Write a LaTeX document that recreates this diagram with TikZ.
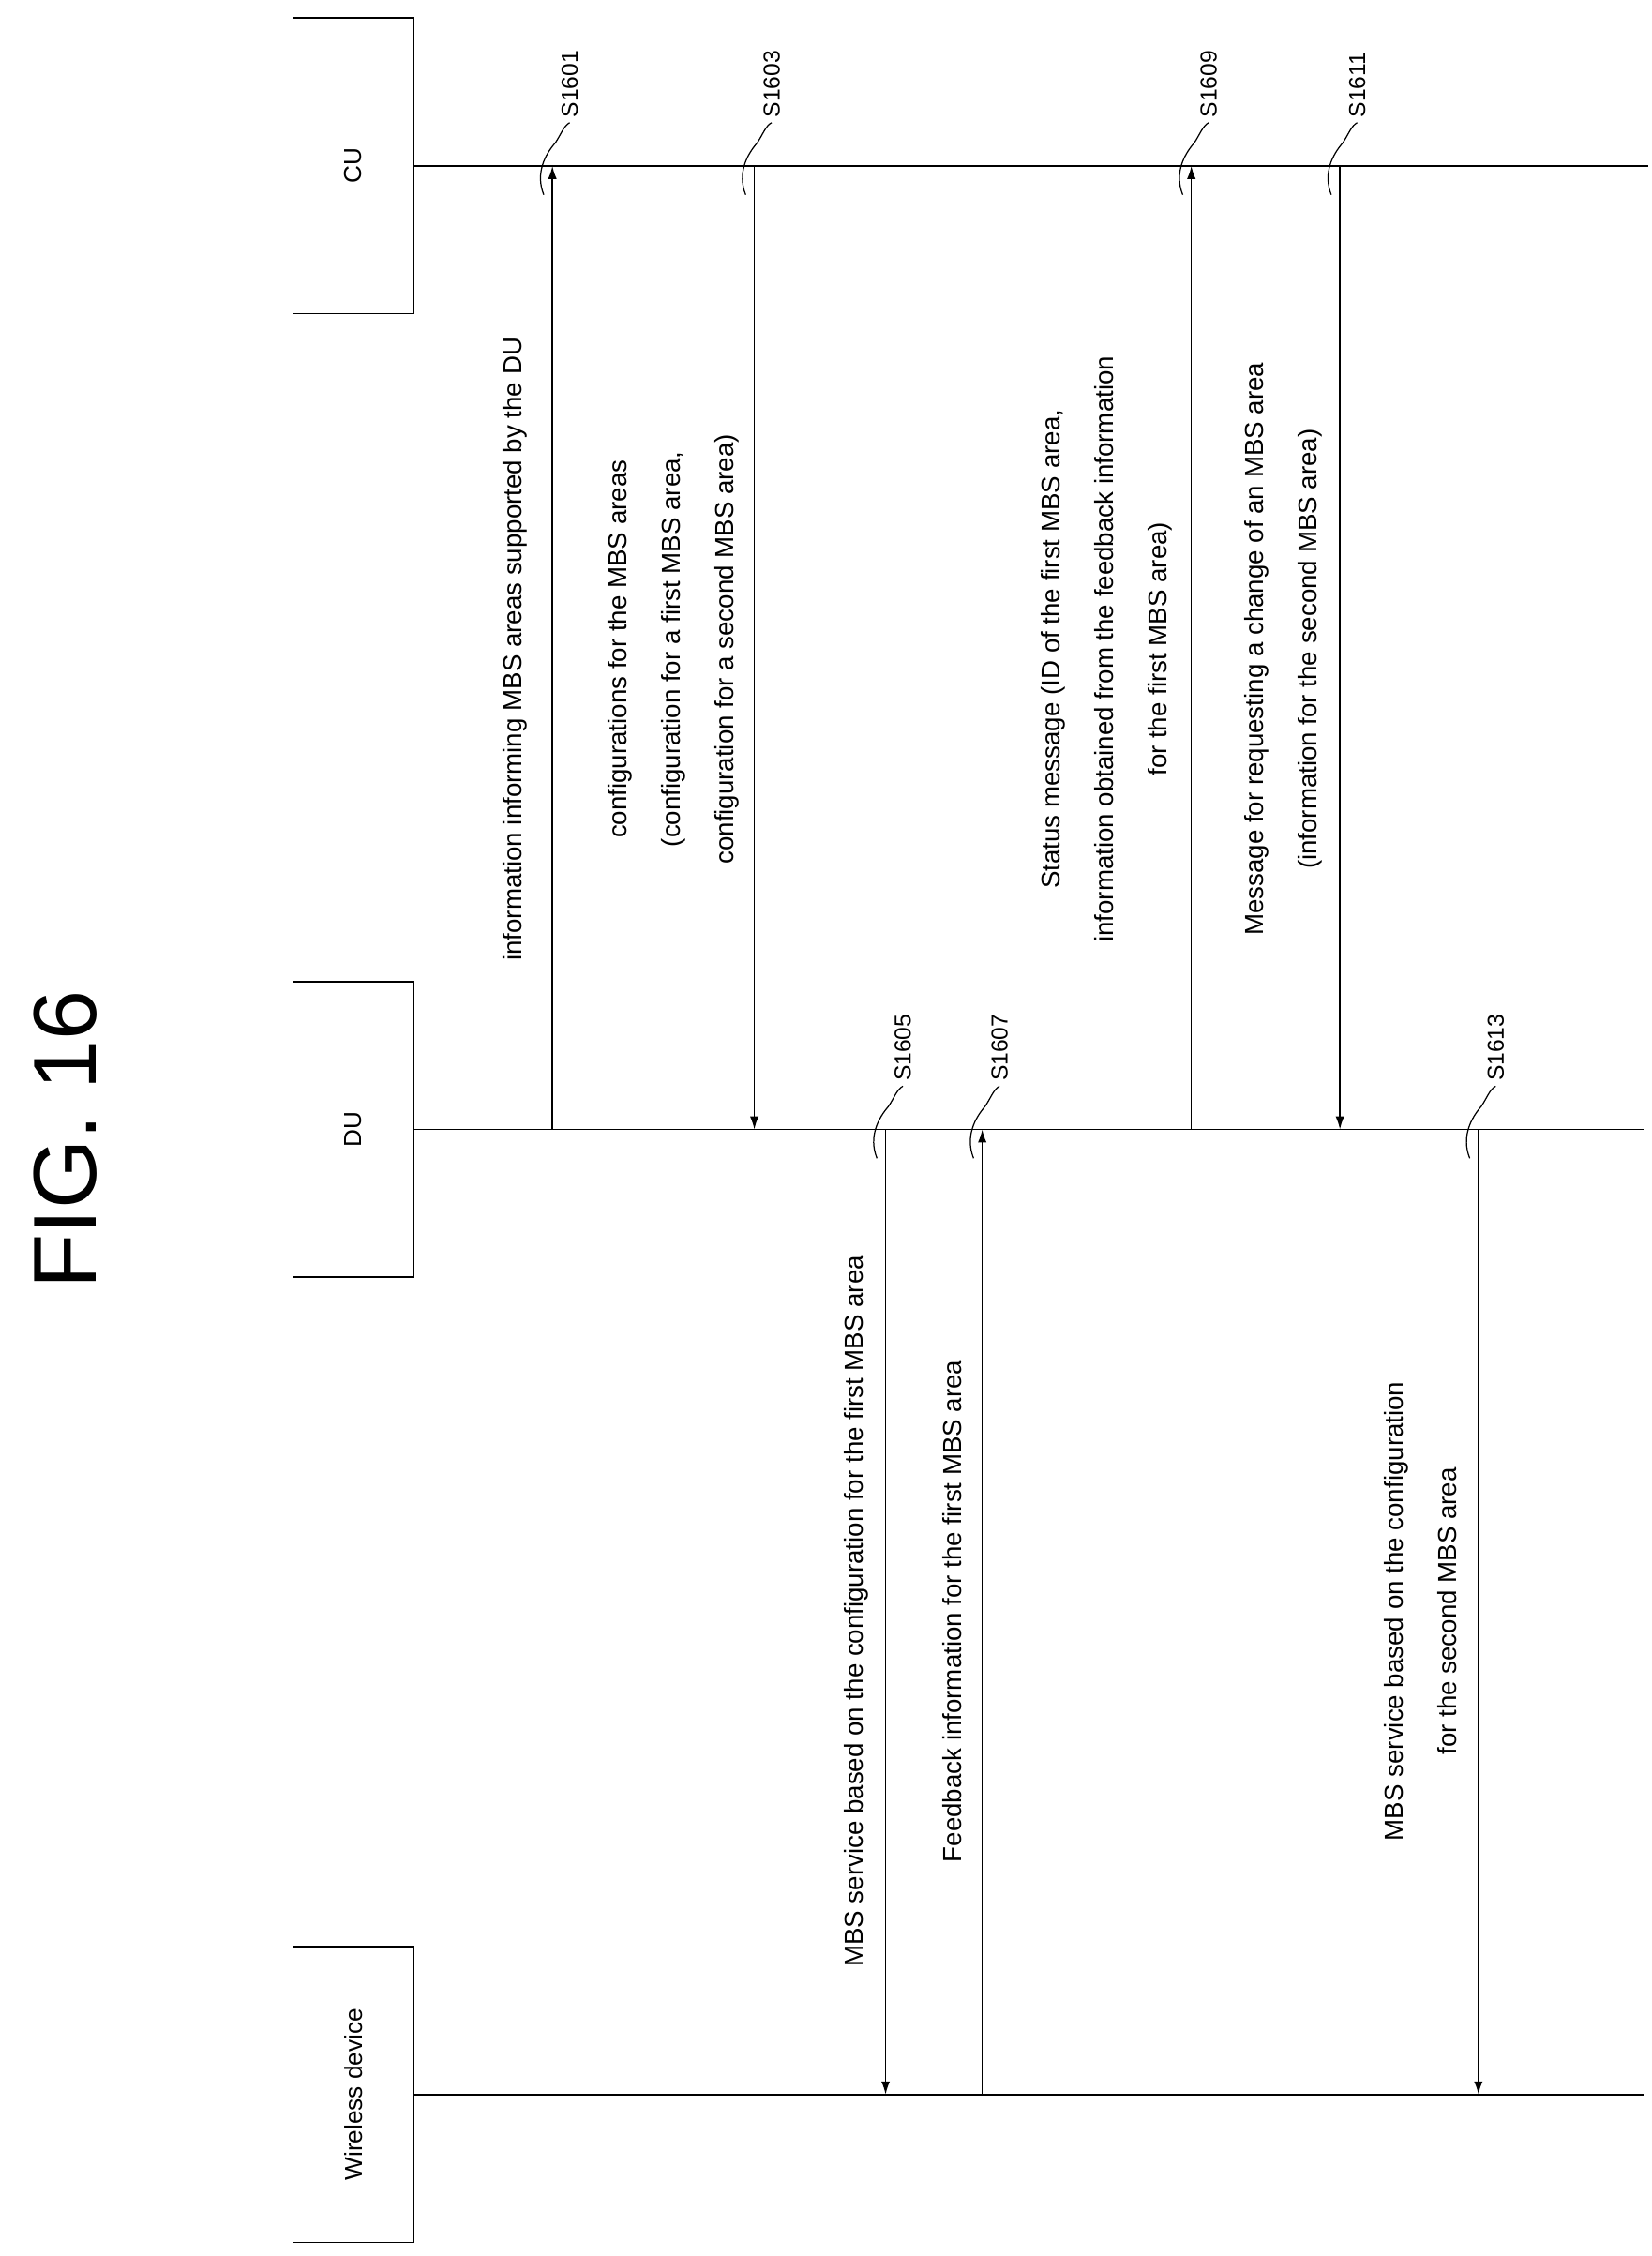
\documentclass[tikz,border=0pt]{standalone}
\usepackage{fontspec}
\setmainfont{Liberation Sans}
\usetikzlibrary{arrows.meta}
\begin{document}
\begin{tikzpicture}[x=1pt,y=-1pt,
  box/.style={draw,line width=1pt,minimum width=205pt,minimum height=84pt,rotate=90,font=\fontsize{17}{20}\selectfont},
  life/.style={line width=1.2pt},
  msg/.style={line width=1pt,-{Latex[length=9pt,width=6pt]}},
  lab/.style={rotate=90,align=center,font=\fontsize{18}{37}\selectfont},
  sl/.style={rotate=90,anchor=west,font=\fontsize{16}{18}\selectfont}]
\useasboundingbox (0,0) rectangle (1145,1564);
\node[rotate=90,font=\fontsize{62}{70}\selectfont] (title) at (45,790) {FIG. 16};
\node[box] (cu) at (245,115) {CU};
\node[box] (du) at (245,783) {DU};
\node[box] (wd) at (245,1452) {Wireless device};
\coordinate (cuE) at (1143,115);
\coordinate (duE) at (1140,783);
\coordinate (wdE) at (1140,1452);
\draw[life] (cu.south) -- (cuE);
\draw[life] (du.south) -- (duE);
\draw[life] (wd.south) -- (wdE);
\foreach \n/\x in {1/383,3/523,9/826,11/929}{
  \coordinate (c\n) at (\x,115); \coordinate (d\n) at (\x,783);}
\foreach \n/\x in {5/614,7/681,13/1025}{
  \coordinate (d\n) at (\x,783); \coordinate (w\n) at (\x,1452);}
\draw[msg] (d1) -- (c1);
\draw[msg] (c3) -- (d3);
\draw[msg] (d5) -- (w5);
\draw[msg] (w7) -- (d7);
\draw[msg] (d9) -- (c9);
\draw[msg] (c11) -- (d11);
\draw[msg] (d13) -- (w13);
\node[lab] (l1) at (357,450) {information informing MBS areas supported by the DU};
\node[lab] (l3) at (467,450) {configurations for the MBS areas\\(configuration for a first MBS area,\\configuration for a second MBS area)};
\node[lab] (l5) at (594,1117) {MBS service based on the configuration for the first MBS area};
\node[lab] (l7) at (660,1117) {Feedback information for the first MBS area};
\node[lab] (l9) at (767,450) {Status message (ID of the first MBS area,\\information obtained from the feedback information\\for the first MBS area)};
\node[lab] (l11) at (890,450) {Message for requesting a change of an MBS area\\(information for the second MBS area)};
\node[lab] (l13) at (985,1117) {MBS service based on the configuration\\for the second MBS area};
\foreach \n/\x/\y/\t in {1/383/115/S1601,3/523/115/S1603,9/826/115/S1609,11/929/115/S1611,5/614/783/S1605,7/681/783/S1607,13/1025/783/S1613}{
  \coordinate (sa\n) at (\x-6,\y+20);
  \coordinate (sb\n) at (\x+12,\y-30);
  \draw[line width=0.8pt] (sa\n) .. controls (\x-12,\y+5) and (\x-5,\y-8) .. (\x+2,\y-16) .. controls (\x+6,\y-22) and (\x+8,\y-28) .. (sb\n);
  \node[sl] (s\n) at (sb\n) {\t};}
\end{tikzpicture}
\end{document}
